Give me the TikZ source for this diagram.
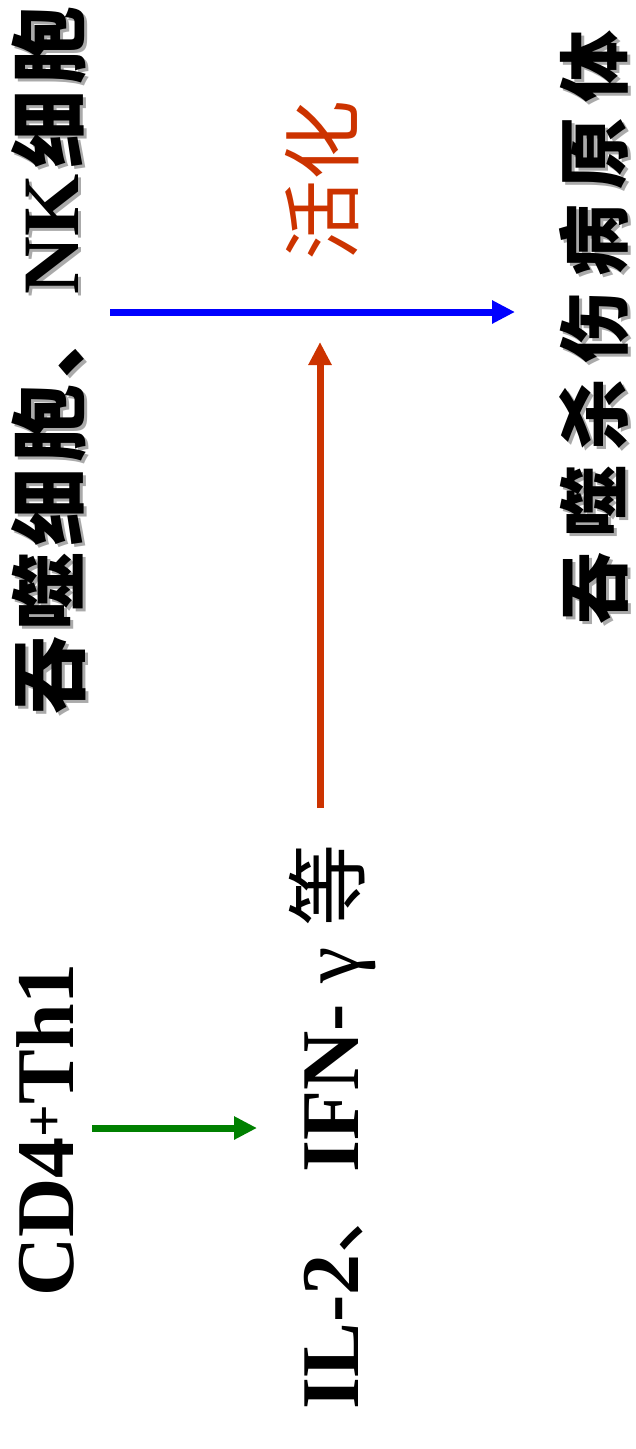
\documentclass[tikz,border=0pt]{standalone}
\usepackage{fontspec}
\setmainfont{Liberation Serif}
\newfontfamily\cjk{Noto Sans CJK SC}
\usetikzlibrary{arrows.meta}
\definecolor{actred}{RGB}{204,51,0}
\definecolor{arrgreen}{RGB}{0,128,0}
\definecolor{arrblue}{RGB}{0,0,255}
\definecolor{shade}{RGB}{170,170,170}
\begin{document}
\begin{tikzpicture}[x=1pt,y=1pt,
  lbl/.style={rotate=90,inner sep=0pt,anchor=center},
  big/.style={font=\fontsize{78}{84}\selectfont},
  mid/.style={font=\fontsize{72}{80}\selectfont},
  lat/.style={font=\fontsize{82}{90}\selectfont\bfseries},
  shd/.style={text=shade},
  conn/.style={line width=7pt,-{Triangle[length=23pt,width=22pt]}},
]
\useasboundingbox (0,0) rectangle (636,-1449);
\def\mytxtA{{\cjk\bfseries 吞\kern6pt 噬\kern6pt 细\kern6pt 胞\kern6pt 、\kern6pt}{\bfseries\fontsize{80}{84}\selectfont NK}{\kern6pt\cjk\bfseries 细\kern6pt 胞}}
\def\mytxtC{\cjk\bfseries 吞\kern15pt 噬\kern15pt 杀\kern15pt 伤\kern15pt 病\kern15pt 原\kern15pt 体}
% column 1
\node[lbl,big,shd] (cellsS) at (52,-363) {\mytxtA};
\node[lbl,big] (cells) at (49,-360) {\mytxtA};
% column 3
\node[lbl,mid,shd] (killS) at (597,-330) {\mytxtC};
\node[lbl,mid] (kill) at (594,-327) {\mytxtC};
% activation label
\node[lbl,font=\fontsize{80}{84}\selectfont\cjk,text=actred] (act) at (322,-180) {活化};
% CD4+Th1
\node[lbl,lat,anchor=base] (th) at (73,-1130) {CD4\textsuperscript{+}Th1};
% cytokines
\node[lbl,lat,anchor=base] (cyt) at (358,-1127) {IL-2{\cjk\mdseries 、}IFN- {\mdseries γ} {\cjk\mdseries 等}};
% connectors
\coordinate (bs) at (110,-312);
\coordinate (be) at (515,-312);
\coordinate (rs) at (320,-808);
\coordinate (re) at (320,-342);
\coordinate (gs) at (92,-1128);
\coordinate (ge) at (257,-1128);
\draw[conn,arrblue] (bs) -- (be);
\draw[conn,actred] (rs) -- (re);
\draw[conn,arrgreen] (gs) -- (ge);
\end{tikzpicture}
\end{document}
